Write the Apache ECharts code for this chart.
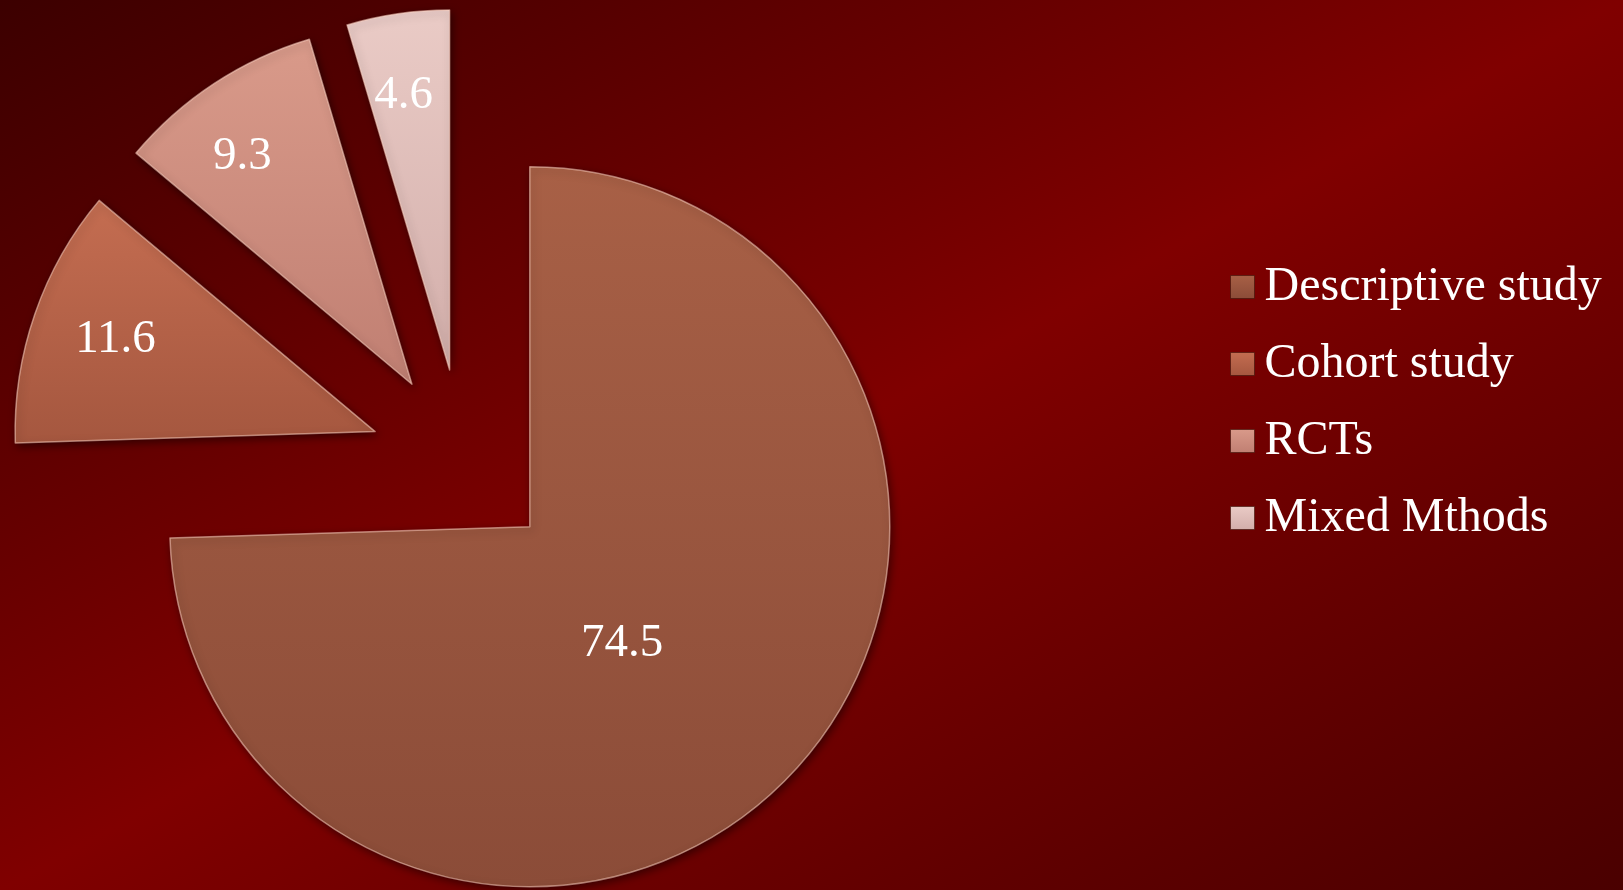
<!DOCTYPE html>
<html>
<head>
<meta charset="utf-8">
<title>Study designs</title>
<script src="https://cdn.jsdelivr.net/npm/echarts@6/dist/echarts.min.js"></script>
<style>
  html, body { margin: 0; padding: 0; }
  #chart {
    width: 1623px;
    height: 890px;
    background: linear-gradient(to bottom right, #3c0000 0%, #800000 50%, #4a0000 100%);
  }
</style>
</head>
<body>
<div id="chart"></div>
<script>
// Share of studies by design (%)
const categories = ['Descriptive study', 'Cohort study', 'RCTs', 'Mixed Mthods'];
const values = [74.5, 11.6, 9.3, 4.6];

// Slice fills: top and bottom tones of each vertical gradient
const topColors = ['#a86046', '#c46d51', '#d99a8a', '#eacbc6'];
const bottomColors = ['#8b4c38', '#a5573f', '#c07f72', '#d2aeaa'];

// Label placement: distance from the slice tip as a fraction of the radius,
// and a sideways nudge (px, clockwise positive)
const labelRadius = [0.403, 0.757, 0.778, 0.763];
const labelSide = [20, 2, -17, -6];

const R = 360;
const EXPLODE = 93;

const total = values.reduce((a, b) => a + b, 0);
let acc = 0;
// Mid angle of each slice, clockwise from 12 o'clock
const midAngles = values.map(v => {
  const m = (acc + v / 2) / total * 2 * Math.PI;
  acc += v;
  return m;
});

const chart = echarts.init(document.getElementById('chart'), null, { renderer: 'canvas' });

const data = categories.map((name, i) => ({
  name: name,
  value: values[i],
  selected: true,
  itemStyle: {
    color: new echarts.graphic.LinearGradient(0, 0, 0, 1, [
      { offset: 0, color: topColors[i] },
      { offset: 1, color: bottomColors[i] }
    ])
  }
}));

chart.setOption({
  backgroundColor: 'transparent',
  animation: false,
  legend: {
    orient: 'vertical',
    left: 1230,
    top: 262,
    padding: 0,
    itemWidth: 24,
    itemHeight: 23,
    itemGap: 27,
    icon: 'rect',
    selectedMode: false,
    data: categories,
    itemStyle: {
      borderColor: 'rgba(60,20,10,0.6)',
      borderWidth: 1
    },
    textStyle: {
      color: '#ffffff',
      fontFamily: 'Liberation Serif',
      fontSize: 48,
      lineHeight: 50,
      padding: [0, 0, 0, 5]
    }
  },
  series: [{
    type: 'pie',
    center: [463, 462],
    radius: R,
    startAngle: 90,
    clockwise: true,
    selectedMode: 'multiple',
    selectedOffset: EXPLODE,
    avoidLabelOverlap: false,
    silent: true,
    itemStyle: {
      borderColor: 'rgba(255,214,196,0.55)',
      borderWidth: 1.5,
      shadowColor: 'rgba(0,0,0,0.5)',
      shadowBlur: 8,
      shadowOffsetX: 2,
      shadowOffsetY: 3
    },
    label: {
      show: true,
      position: 'inside',
      color: '#ffffff',
      fontFamily: 'Liberation Serif',
      fontSize: 47,
      formatter: p => p.value.toFixed(1)
    },
    labelLine: { show: false },
    emphasis: { disabled: true },
    labelLayout: function (params) {
      const i = params.dataIndex;
      const a = midAngles[i];
      const s = (labelRadius[i] - 0.5) * R;
      const t = labelSide[i];
      // radial unit (sin a, -cos a), clockwise tangent (cos a, sin a)
      return {
        dx: Math.sin(a) * s + Math.cos(a) * t,
        dy: -Math.cos(a) * s + Math.sin(a) * t
      };
    },
    data: data
  }]
});
</script>
</body>
</html>
